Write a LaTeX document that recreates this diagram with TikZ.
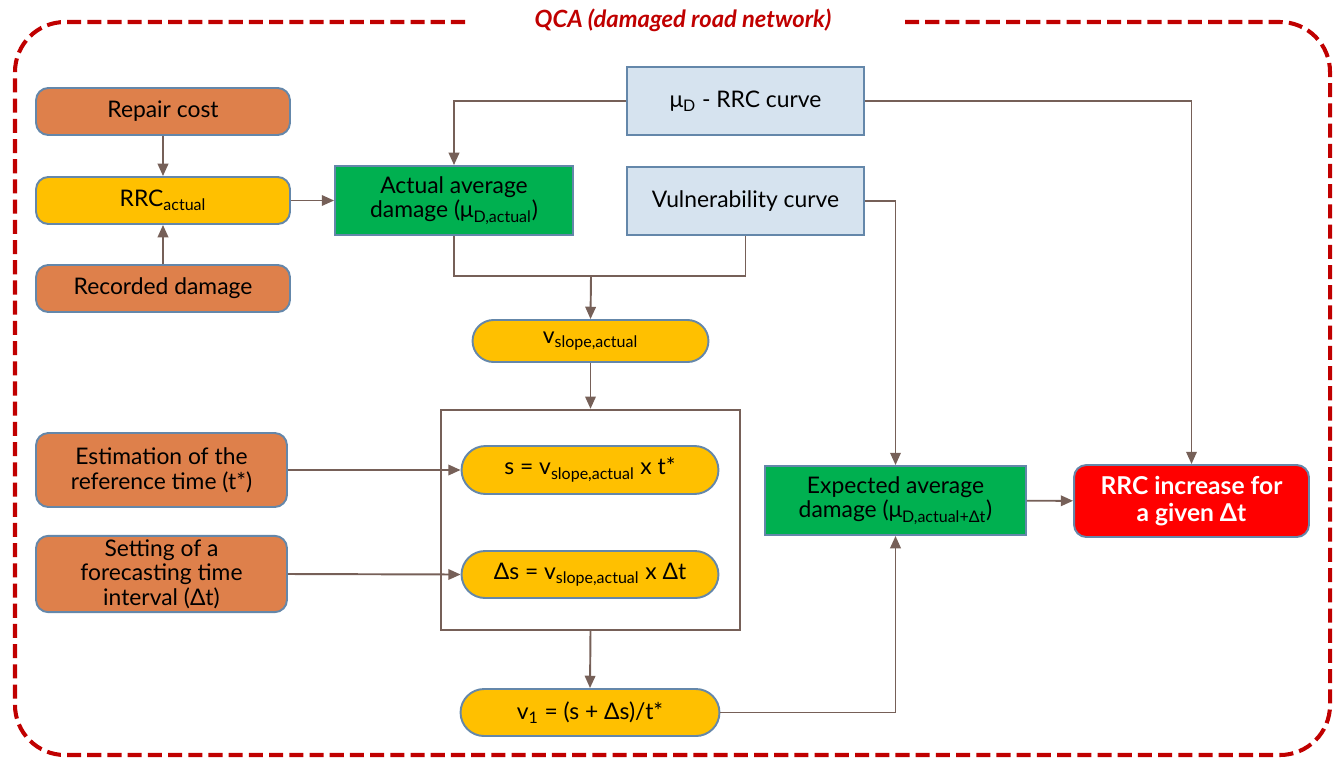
\documentclass[tikz,border=0pt]{standalone}
\usepackage{fontspec}
\setmainfont{Lato}
\usepackage{tikz}
\usetikzlibrary{shapes, arrows.meta}
\definecolor{qcared}{RGB}{192,0,0}
\definecolor{boxorange}{RGB}{222,128,75}
\definecolor{boxyellow}{RGB}{255,192,0}
\definecolor{boxgreen}{RGB}{0,176,80}
\definecolor{boxblue}{RGB}{214,227,239}
\definecolor{boxedge}{RGB}{100,135,170}
\definecolor{linkbrown}{RGB}{118,96,88}
\tikzset{
  base/.style={draw=boxedge, line width=1.1pt, align=center, inner sep=2pt,
    font=\fontsize{13}{14}\selectfont},
  orangebox/.style={base, fill=boxorange, rounded corners=7pt},
  yellowbox/.style={base, fill=boxyellow, rounded corners=7pt},
  pill/.style={base, fill=boxyellow, rounded rectangle},
  greenbox/.style={base, fill=boxgreen},
  bluebox/.style={base, fill=boxblue},
  redbox/.style={base, fill=red, rounded corners=7pt, text=white,
    font=\fontsize{14}{15.5}\selectfont\bfseries},
  link/.style={draw=linkbrown, line width=1.1pt, -{Triangle[length=7pt,width=6pt]}},
  plainlink/.style={draw=linkbrown, line width=1.1pt}
}

\begin{document}
\begin{tikzpicture}[x=0.02cm, y=-0.02cm]
  \useasboundingbox (0,0) rectangle (1334,758);
  % outer dashed frame
  \draw[qcared, line width=2.3pt, dash pattern=on 8pt off 3.5pt, rounded corners=1cm]
    (465,22) -| (15,755) -| (1330,22) -- (905,22);
  \node[text=qcared, font=\fontsize{13.5}{15}\selectfont\bfseries\itshape] (title) at (683,20) {QCA (damaged road network)};

  % left column
  \node[orangebox, minimum width=5.08cm, minimum height=0.94cm] (repair) at (163,111.5) {Repair cost};
  \node[yellowbox, minimum width=5.08cm, minimum height=0.94cm] (rrc) at (163,200.5) {RRC\textsubscript{actual}};
  \node[orangebox, minimum width=5.08cm, minimum height=0.94cm] (recorded) at (163,288.5) {Recorded damage};
  \node[orangebox, minimum width=5.02cm, minimum height=1.48cm] (estim) at (161.5,470) {Estimation of the\\reference time (t*)};
  \node[orangebox, minimum width=5.02cm, minimum height=1.48cm] (setting) at (161.5,574) {Setting of a\\forecasting time\\interval (Δt)};

  % curves and damage
  \node[greenbox, minimum width=4.76cm, minimum height=1.38cm] (actual) at (454,200.5) {Actual average\\damage (μ\textsubscript{D,actual})};
  \node[bluebox, minimum width=4.74cm, minimum height=1.36cm] (murrc) at (745.5,101) {μ\textsubscript{D} - RRC curve};
  \node[bluebox, minimum width=4.74cm, minimum height=1.36cm] (vuln) at (745.5,201) {Vulnerability curve};
  \node[pill, minimum width=4.86cm, minimum height=0.84cm] (vslope) at (590.5,341) {v\textsubscript{slope,actual}};

  % calculation block
  \node[draw=linkbrown, line width=1.4pt, minimum width=5.98cm, minimum height=4.4cm] (calc) at (590.5,520) {};
  \node[pill, minimum width=5.28cm, minimum height=0.96cm] (seq) at (590,470) {s = v\textsubscript{slope,actual} x t*};
  \node[pill, minimum width=5.28cm, minimum height=0.94cm] (dseq) at (590,574.5) {Δs = v\textsubscript{slope,actual} x Δt};
  \node[pill, minimum width=5.32cm, minimum height=0.94cm] (vone) at (590,712.5) {v\textsubscript{1} = (s + Δs)/t*};

  % results
  \node[greenbox, minimum width=5.22cm, minimum height=1.38cm] (expected) at (895.5,500.5) {Expected average\\damage (μ\textsubscript{D,actual+Δt})};
  \node[redbox, minimum width=4.7cm, minimum height=1.44cm] (increase) at (1191.5,501) {RRC increase for\\a given Δt};

  \coordinate (join) at (591,276);

  % connectors
  \draw[link] (repair) -- (rrc);
  \draw[link] (recorded) -- (rrc);
  \draw[link] (rrc) -- (actual);
  \draw[link] (murrc.west) -| (actual.north);
  \draw[link] (murrc.east) -| (increase.north);
  \draw[link] (vuln.east) -| (expected.north);
  \draw[plainlink] (actual.south) |- (join) -| (vuln.south);
  \draw[link] (join) -- (vslope.north);
  \draw[link] (vslope.south) -- (calc.north);
  \draw[link] (estim.east) -- (seq.west);
  \draw[link] (setting.east) -- (dseq.west);
  \draw[link] (calc.south) -- (vone.north);
  \draw[link] (vone.east) -| (expected.south);
  \draw[link] (expected) -- (increase);
\end{tikzpicture}
\end{document}
